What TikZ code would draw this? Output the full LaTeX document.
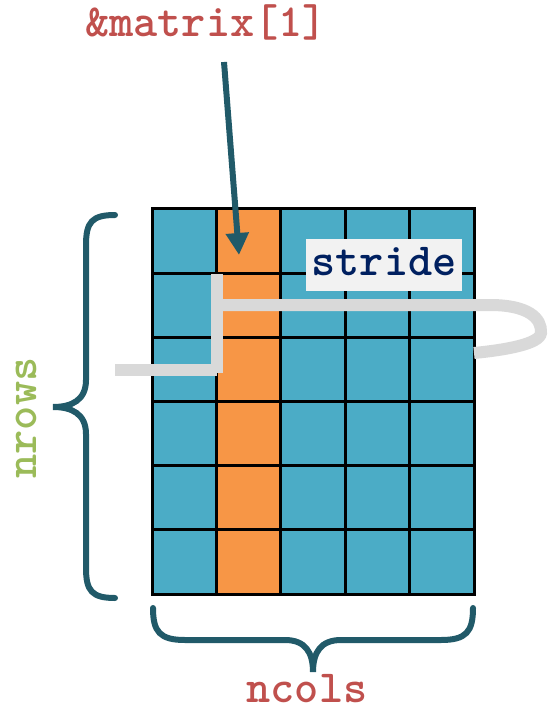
\documentclass[tikz,border=0pt]{standalone}
\usepackage{fontspec}
\usetikzlibrary{arrows.meta}

\definecolor{cellblue}{HTML}{4BACC6}
\definecolor{cellorange}{HTML}{F79646}
\definecolor{bracecol}{HTML}{215A69}
\definecolor{labelred}{HTML}{C0504D}
\definecolor{labelgreen}{HTML}{9BBB59}
\definecolor{stridenavy}{HTML}{002060}
\definecolor{graybar}{HTML}{D9D9D9}
\definecolor{stridebg}{HTML}{F2F2F2}

\tikzset{
	gridline/.style={draw=black,line width=3pt,line cap=rect},
	brace/.style={draw=bracecol,line width=6pt,line cap=round},
	track/.style={draw=graybar,line width=12pt},
	pointer/.style={draw=bracecol,line width=6pt,-{Triangle[length=22pt,width=22pt]}},
	codelabel/.style={font=\ttfamily\bfseries\fontsize{46}{46}\selectfont,inner sep=0pt,anchor=base}
}

\begin{document}
\begin{tikzpicture}[x=1pt,y=-1pt]
\useasboundingbox (0,0) rectangle (548,711);
%Matrix
\fill[cellblue] (152,209) rectangle (474,594);
\fill[cellorange] (216.4,209) rectangle (280.8,594);
\foreach \i in {1,...,4}
	\draw[gridline] ({152+\i*64.4},209) -- ({152+\i*64.4},594);
\foreach \j in {1,...,5}
	\draw[gridline] (152,{209+\j*64.17}) -- (474,{209+\j*64.17});
\draw[gridline] (152,209) rectangle (474,594);
%Labels
\node[codelabel,text=labelred] (ptr) at (206,37) {\&matrix[1]};
\fill[stridebg] (306,239) rectangle (462,291);
\node[codelabel,text=stridenavy] (stride) at (384,275) {stride};
\node[codelabel,text=labelred] (ncols) at (307,702) {ncols};
\node[codelabel,text=labelgreen,rotate=90] (nrows) at (36,418) {nrows};
%Pointer
\coordinate (ptrtail) at (224,62);
\coordinate (ptrtip) at (239,255);
\draw[pointer] (ptrtail) -- (ptrtip);
%Stride
\draw[track] (115,370) -- (217,370);
\draw[track] (217,274) -- (217,373);
\draw[track] (217,305) -- (490,305) .. controls (528,305) and (542,318) .. (541,333)
	.. controls (540,344) and (505,350) .. (474,353);
%Braces
\draw[brace] (115,215) .. controls (92,215) and (86,222) .. (86,245) -- (86,380)
	.. controls (86,400) and (72,407) .. (53,407)
	.. controls (72,407) and (86,414) .. (86,434) -- (86,568)
	.. controls (86,591) and (92,598) .. (115,598);
\draw[brace] (153,608) .. controls (153,632) and (160,640) .. (185,640) -- (285,640)
	.. controls (305,640) and (313,652) .. (313,672)
	.. controls (313,652) and (321,640) .. (341,640) -- (441,640)
	.. controls (466,640) and (473,632) .. (473,608);
\end{tikzpicture}
\end{document}
